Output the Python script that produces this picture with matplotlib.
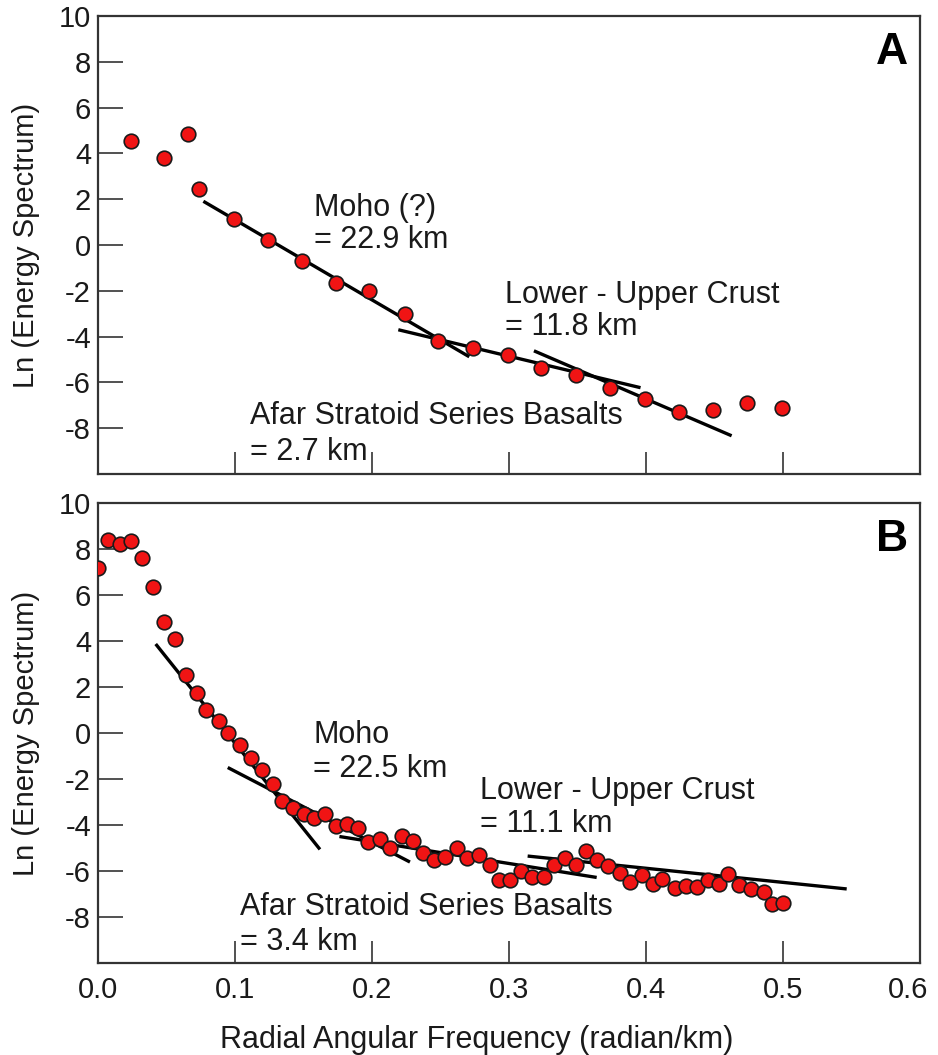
import numpy as np
import matplotlib
matplotlib.use("Agg")
import matplotlib.pyplot as plt
from matplotlib.transforms import ScaledTranslation

plt.rcParams['font.family'] = ['Liberation Sans', 'DejaVu Sans']

# ---- panel A data ----
a_freq = [0.024, 0.048, 0.066, 0.074, 0.099, 0.124, 0.149, 0.174, 0.198, 0.224,
          0.248, 0.274, 0.299, 0.323, 0.349, 0.374, 0.399, 0.424, 0.449, 0.474, 0.499]
a_lnE = [4.53, 3.81, 4.83, 2.43, 1.13, 0.22, -0.68, -1.65, -1.99, -3.01,
         -4.19, -4.49, -4.80, -5.36, -5.68, -6.25, -6.71, -7.29, -7.22, -6.91, -7.10]
# fitted segments: (x0, y0, x1, y1)
a_fits = [(0.0769, 1.91, 0.271, -4.88),
          (0.2192, -3.70, 0.396, -6.23),
          (0.3182, -4.62, 0.4625, -8.33)]

# ---- panel B data ----
b_freq = [0.000, 0.0075, 0.016, 0.024, 0.032, 0.040, 0.048, 0.056, 0.064, 0.072,
          0.079, 0.088, 0.095, 0.104, 0.112, 0.120, 0.1275, 0.134, 0.142, 0.150,
          0.158, 0.166, 0.174, 0.182, 0.190, 0.197, 0.206, 0.213, 0.222, 0.230,
          0.237, 0.245, 0.253, 0.262, 0.269, 0.278, 0.286, 0.293, 0.301, 0.309,
          0.317, 0.3255, 0.333, 0.341, 0.349, 0.356, 0.3645, 0.3725, 0.381, 0.388,
          0.397, 0.405, 0.412, 0.421, 0.429, 0.437, 0.445, 0.453, 0.460, 0.468,
          0.477, 0.486, 0.492, 0.500]
b_lnE = [7.18, 8.38, 8.23, 8.33, 7.61, 6.33, 4.84, 4.08, 2.51, 1.74,
         0.99, 0.51, -0.02, -0.53, -1.10, -1.62, -2.21, -2.94, -3.24, -3.52,
         -3.71, -3.53, -4.03, -3.94, -4.15, -4.72, -4.60, -5.00, -4.48, -4.70,
         -5.23, -5.50, -5.40, -5.00, -5.45, -5.32, -5.76, -6.41, -6.41, -6.00,
         -6.25, -6.28, -5.72, -5.44, -5.72, -5.12, -5.53, -5.80, -6.09, -6.49,
         -6.17, -6.55, -6.36, -6.73, -6.65, -6.71, -6.39, -6.55, -6.15, -6.60,
         -6.79, -6.92, -7.45, -7.37]
b_fits = [(0.0421, 3.87, 0.162, -5.06),
          (0.0947, -1.50, 0.2277, -5.61),
          (0.1762, -4.50, 0.364, -6.28),
          (0.3136, -5.35, 0.5465, -6.78)]

# annotations: (x, y of line 1, line 1, y of line 2, line 2)
a_notes = [(0.158, 1.6, "Moho (?)", 0.2, "= 22.9 km"),
           (0.297, -2.17, "Lower - Upper Crust", -3.6, "= 11.8 km"),
           (0.111, -7.48, "Afar Stratoid Series Basalts", -9.05, "= 2.7 km")]
b_notes = [(0.157, -0.08, "Moho", -1.57, "= 22.5 km"),
           (0.279, -2.53, "Lower - Upper Crust", -3.96, "= 11.1 km"),
           (0.104, -7.56, "Afar Stratoid Series Basalts", -9.08, "= 3.4 km")]

xticks = [0.0, 0.1, 0.2, 0.3, 0.4, 0.5, 0.6]
yticks = [-8, -6, -4, -2, 0, 2, 4, 6, 8, 10]

fig = plt.figure(figsize=(9.38, 10.55), dpi=100)
axA = fig.add_axes([0.1045, 0.5507, 0.8763, 0.4341])
axB = fig.add_axes([0.1045, 0.0872, 0.8763, 0.4360])


def draw_panel(ax, fx, fy, fits, notes, letter, show_xlabels):
    for x0, y0, x1, y1 in fits:
        ax.plot([x0, x1], [y0, y1], color='black', lw=2.4, solid_capstyle='butt', zorder=2)
    ax.plot(fx, fy, 'o', ms=10.5, mfc='#f01414', mec='#1a1a1a', mew=1.2, zorder=3)
    for x, y1, t1, y2, t2 in notes:
        ax.text(x, y1, t1, fontsize=22, color='#1a1a1a', ha='left', va='center')
        ax.text(x, y2, t2, fontsize=22, color='#1a1a1a', ha='left', va='center')
    ax.text(0.966, 0.921, letter, transform=ax.transAxes, fontsize=32,
            fontweight='bold', ha='center', va='center', color='black')
    ax.set_xlim(0, 0.6)
    ax.set_ylim(-10, 10)
    ax.set_xticks(xticks)
    ax.set_yticks(yticks)
    ax.set_yticklabels([str(v) for v in yticks])
    if show_xlabels:
        ax.set_xticklabels([f"{v:.1f}" for v in xticks])
    else:
        ax.set_xticklabels([])
    ax.tick_params(axis='y', direction='in', length=18, width=1.2, pad=5,
                   labelsize=21, colors='#333333', labelcolor='#1a1a1a')
    ax.tick_params(axis='x', direction='in', length=16, width=1.2, pad=9,
                   labelsize=21, colors='#333333', labelcolor='#1a1a1a')
    for s in ax.spines.values():
        s.set_linewidth(1.6)
        s.set_color('#333333')
    ax.set_ylabel("Ln (Energy Spectrum)", fontsize=21, color='#1a1a1a')
    ax.yaxis.set_label_coords(-0.071, 0.5)


draw_panel(axA, a_freq, a_lnE, a_fits, a_notes, "A", False)
draw_panel(axB, b_freq, b_lnE, b_fits, b_notes, "B", True)

# last tick label sits on the figure edge; nudge it in so it is not cut
last = axB.get_xticklabels()[-1]
last.set_transform(last.get_transform() + ScaledTranslation(-0.12, 0, fig.dpi_scale_trans))

fig.text(477 / 938, 1 - 1040 / 1055, "Radial Angular Frequency (radian/km)",
         fontsize=22, ha='center', va='center', color='#1a1a1a')

fig.savefig("out.png", dpi=100)
